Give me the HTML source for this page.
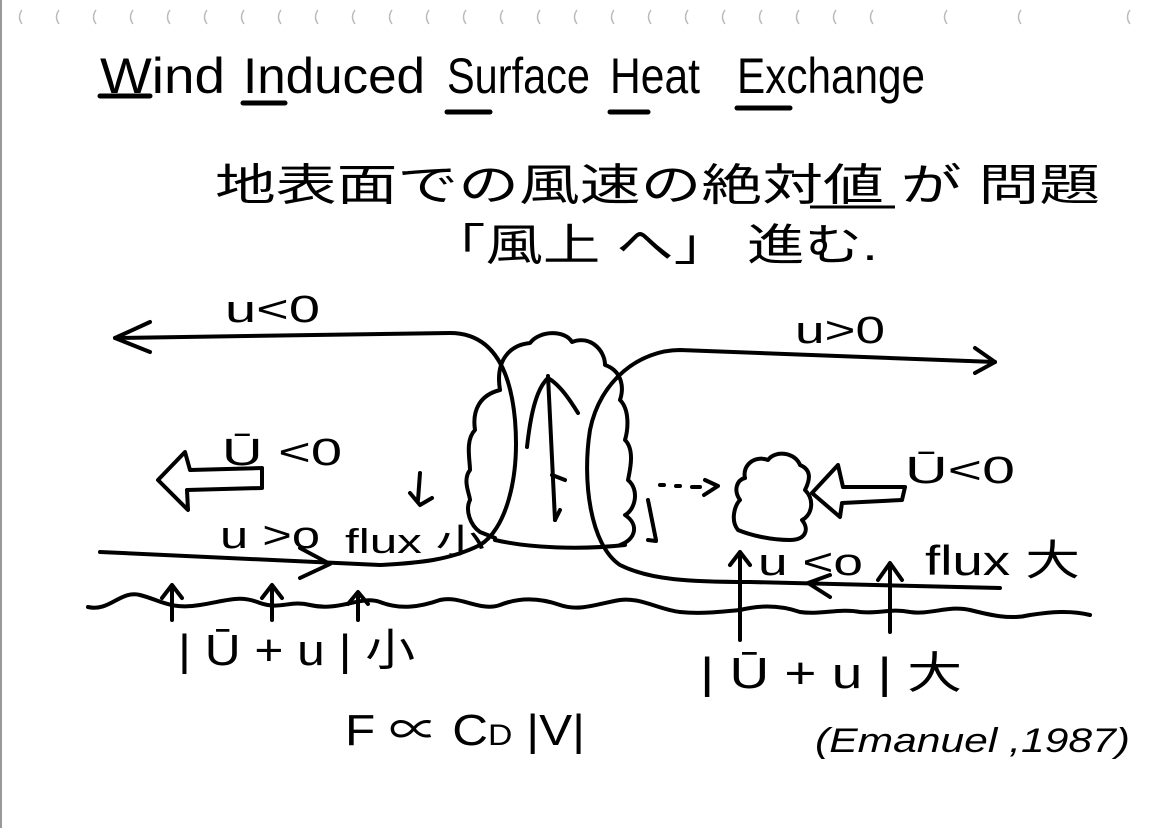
<!DOCTYPE html>
<html><head><meta charset="utf-8"><style>
html,body{margin:0;padding:0;background:#fff;}
svg{display:block}
text{font-family:"Liberation Sans","Noto Sans CJK JP",sans-serif;fill:#000}
</style></head><body>
<svg width="1167" height="828" viewBox="0 0 1167 828" xmlns="http://www.w3.org/2000/svg">
<rect width="1167" height="828" fill="#fff"/>
<line x1="1" y1="0" x2="1" y2="828" stroke="#999" stroke-width="2"/>
<g fill="none" stroke="#bbb" stroke-width="1.5">
<path d="M22 10 q-5 7 0 14"/><path d="M59 10 q-5 7 0 14"/><path d="M96 10 q-5 7 0 14"/><path d="M133 10 q-5 7 0 14"/><path d="M170 10 q-5 7 0 14"/><path d="M207 10 q-5 7 0 14"/><path d="M244 10 q-5 7 0 14"/><path d="M281 10 q-5 7 0 14"/><path d="M318 10 q-5 7 0 14"/><path d="M355 10 q-5 7 0 14"/><path d="M392 10 q-5 7 0 14"/><path d="M429 10 q-5 7 0 14"/><path d="M466 10 q-5 7 0 14"/><path d="M503 10 q-5 7 0 14"/><path d="M540 10 q-5 7 0 14"/><path d="M577 10 q-5 7 0 14"/><path d="M614 10 q-5 7 0 14"/><path d="M651 10 q-5 7 0 14"/><path d="M688 10 q-5 7 0 14"/><path d="M725 10 q-5 7 0 14"/><path d="M762 10 q-5 7 0 14"/><path d="M799 10 q-5 7 0 14"/><path d="M836 10 q-5 7 0 14"/><path d="M873 10 q-5 7 0 14"/><path d="M947 10 q-5 7 0 14"/><path d="M1021 10 q-5 7 0 14"/><path d="M1130 10 q-5 7 0 14"/>
</g>
<!-- title -->
<g font-size="50">
<text x="100" y="93" textLength="125" lengthAdjust="spacingAndGlyphs">Wind</text>
<text x="243" y="93" textLength="182" lengthAdjust="spacingAndGlyphs">Induced</text>
<text x="447" y="93" textLength="143" lengthAdjust="spacingAndGlyphs">Surface</text>
<text x="610" y="93" textLength="90" lengthAdjust="spacingAndGlyphs">Heat</text>
<text x="737" y="93" textLength="188" lengthAdjust="spacingAndGlyphs">Exchange</text>
</g>
<g stroke="#000" stroke-width="5" stroke-linecap="round">
<line x1="100" y1="96" x2="150" y2="96"/><line x1="243" y1="103" x2="285" y2="103"/><line x1="447" y1="112" x2="490" y2="112"/><line x1="610" y1="112" x2="648" y2="112"/><line x1="737" y1="108" x2="790" y2="108"/>
</g>
<text x="215" y="200" font-size="44" textLength="885" lengthAdjust="spacingAndGlyphs">地表面での風速の絶対値 が 問題</text>
<line x1="810" y1="207" x2="895" y2="207" stroke="#000" stroke-width="3"/>
<text x="428" y="260" font-size="44" textLength="450" lengthAdjust="spacingAndGlyphs">「風上 へ」 進む.</text>
<g fill="none" stroke="#000" stroke-width="4" stroke-linecap="round" stroke-linejoin="round">
<path d="M115 338 L450 333 C490 333 510 365 515 420 C520 480 505 530 480 545 C450 560 420 563 380 565 L100 552"/>
<path d="M150 322 L115 338 L150 352"/>
<path d="M300 548 L330 564 L300 578"/>
<path d="M995 362 L680 350 C640 350 600 380 590 430 C582 480 590 545 620 565 C650 580 690 582 750 582 L1000 588"/>
<path d="M975 348 L995 362 L975 373"/>
<path d="M830 575 L808 583 L830 597"/>
<path d="M500 390 C495 360 510 345 530 343 C540 330 565 330 572 342 C590 335 605 350 605 365 C620 370 625 385 620 400 C630 410 628 430 625 440 C635 450 630 470 628 480 C640 490 635 510 625 515 C640 525 635 540 620 545 M500 390 C480 395 472 410 475 430 C465 440 470 460 470 470 C462 480 470 495 470 500 C465 510 470 525 480 532 L495 538"/>
<path d="M495 540 C530 548 580 550 625 545"/>
<path d="M548 376 L555 520 M548 378 C535 390 530 420 527 447 M548 378 C560 385 570 400 578 413"/>
<path d="M555 520 L560 510 M552 475 L565 480"/>
<path d="M420 473 L418 500 M410 493 L420 505 L432 498"/>
<path d="M648 500 L656 540 M648 540 L656 541"/>
<path d="M660 485 h4 M676 486 h4 M692 487 h8 M705 480 L718 486 L704 495"/>
<path d="M745 478 C742 465 755 455 768 460 C775 450 795 452 800 465 C812 470 810 480 805 490 C815 500 812 515 802 520 C810 530 805 540 790 540 C770 540 750 535 738 530 C730 520 735 505 740 500 C733 490 737 480 745 478"/>
<path d="M262 468 L190 470 L185 452 L158 480 L188 510 L187 490 L262 488 Z"/>
<path d="M905 487 L843 487 L838 465 L812 493 L840 517 L842 503 L902 500 Z"/>
<path d="M88 607 C110 612 120 590 140 595 C160 600 170 610 200 605 C230 600 240 595 260 603 C280 610 290 600 310 605 C340 612 360 595 380 602 C400 610 420 607 440 600 C460 595 480 612 500 605 C520 597 540 598 560 605 C580 612 600 603 620 600 C640 597 660 610 680 612 C700 614 720 612 740 610 C760 605 780 605 800 612 C820 615 840 608 860 612 C880 614 890 608 910 612 C930 615 950 605 970 610 C990 615 1010 620 1030 615 C1050 612 1070 610 1090 615"/>
<path d="M172 620 L172 588 M162 598 L172 585 L182 598"/>
<path d="M272 620 L272 588 M262 598 L272 585 L282 598"/>
<path d="M358 620 L358 594 M348 604 L358 592 L368 604"/>
<path d="M740 640 L740 552 M730 565 L740 552 L750 565"/>
<path d="M890 632 L890 565 M878 580 L890 563 L902 580"/>
</g>
<g font-size="38" lengthAdjust="spacingAndGlyphs">
<text x="225" y="322" textLength="95" lengthAdjust="spacingAndGlyphs">u&lt;0</text>
<text x="795" y="343" textLength="90" lengthAdjust="spacingAndGlyphs">u&gt;0</text>
<text x="222" y="465" textLength="120" lengthAdjust="spacingAndGlyphs">Ū &lt;0</text>
<text x="905" y="483" textLength="110" lengthAdjust="spacingAndGlyphs">Ū&lt;0</text>
<text x="220" y="548" textLength="100" lengthAdjust="spacingAndGlyphs">u &gt;o</text>
<text x="345" y="553" textLength="140" lengthAdjust="spacingAndGlyphs" font-size="34">flux 小</text>
<text x="758" y="575" textLength="105" lengthAdjust="spacingAndGlyphs">u &lt;o</text>
<text x="925" y="575" textLength="155" lengthAdjust="spacingAndGlyphs" font-size="42">flux 大</text>
<text x="178" y="665" font-size="44" textLength="237" lengthAdjust="spacingAndGlyphs">| Ū + u | 小</text>
<text x="700" y="688" font-size="44" textLength="262" lengthAdjust="spacingAndGlyphs">| Ū + u | 大</text>
<text x="345" y="745" font-size="44" textLength="240" lengthAdjust="spacingAndGlyphs">F ∝ C<tspan font-size="30">D</tspan> |V|</text>
<text x="815" y="752" font-size="34" font-style="italic" textLength="315" lengthAdjust="spacingAndGlyphs">(Emanuel ,1987)</text>
</g>
</svg>
</body></html>
